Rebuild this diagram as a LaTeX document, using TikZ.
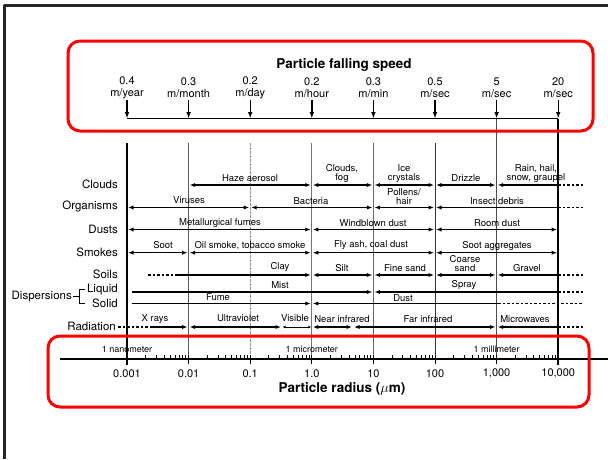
\documentclass[tikz,border=0pt]{standalone}
\usepackage{fontspec}
\setmainfont{TeX Gyre Heros}
\usetikzlibrary{arrows.meta}
\definecolor{boxred}{RGB}{255,0,0}

\begin{document}
\begin{tikzpicture}[x=1pt,y=-1pt,line join=round,
  rowlab/.style={anchor=east,inner sep=0pt,font=\fontsize{11.5}{12}\selectfont},
  seglab/.style={inner sep=0pt,align=center,font=\fontsize{9.5}{9}\selectfont},
  spdlab/.style={inner sep=0pt,align=center,font=\fontsize{11}{12}\selectfont},
  ticklab/.style={inner sep=0pt,font=\fontsize{11}{12}\selectfont},
  unitlab/.style={inner sep=0pt,font=\fontsize{9}{10}\selectfont},
  titlelab/.style={inner sep=0pt,font=\fontsize{13.5}{14}\selectfont\bfseries},
  both/.style={line width=1.4pt,{Latex[length=5.5pt,width=4.2pt]}-{Latex[length=5.5pt,width=4.2pt]},shorten <=1pt,shorten >=1pt},
  toright/.style={line width=1.4pt,-{Latex[length=5.5pt,width=4.2pt]},shorten >=1pt},
  toleft/.style={line width=1.4pt,{Latex[length=5.5pt,width=4.2pt]}-,shorten <=1pt},
  tail/.style={line width=1.4pt,dash pattern=on 2.5pt off 2pt},
  spd/.style={line width=1.4pt,-{Latex[length=6.5pt,width=4.8pt]}},
  hlbox/.style={boxred,line width=3pt,rounded corners=12pt}]
\useasboundingbox (0,0) rectangle (608,459);
\draw[line width=2.5pt,black!85] (608,5.3) -- (4.7,5.3) -- (4.7,459);

\node[titlelab] (title) at (344,65) {Particle falling speed};
\node[spdlab] (s0) at (127,88) {0.4\\m/year};
\node[spdlab] (s1) at (188.6,88) {0.3\\m/month};
\node[spdlab] (s2) at (250.2,88) {0.2\\m/day};
\node[spdlab] (s3) at (311.8,88) {0.2\\m/hour};
\node[spdlab] (s4) at (373.4,88) {0.3\\m/min};
\node[spdlab] (s5) at (435,88) {0.5\\m/sec};
\node[spdlab] (s6) at (496.6,88) {5\\m/sec};
\node[spdlab] (s7) at (558.2,88) {20\\m/sec};
\foreach \x [count=\i from 0] in {127,188.6,250.2,311.8,373.4,435,496.6,558.2}{
  \coordinate (st\i) at (\x,100);
  \coordinate (sb\i) at (\x,118.5);
  \draw[spd] (st\i) -- (sb\i);
}
\draw[line width=1.4pt] (sb0) -- (sb7);

\draw[line width=1.8pt] (127,143) -- (127,365);
\draw[line width=0.7pt,black!65] (188.6,143) -- (188.6,359);
\draw[line width=0.7pt,black!45,dash pattern=on 3pt off 1pt] (250.2,143) -- (250.2,359);
\draw[line width=0.7pt,black!55] (311.8,143) -- (311.8,359);
\draw[line width=0.7pt,black!60] (373.4,143) -- (373.4,359);
\draw[line width=0.8pt,black!80] (435,143) -- (435,359);
\draw[line width=0.8pt,black!70] (sb6) -- (496.6,359);
\draw[line width=1.8pt] (sb7) -- (558.2,365);

\node[rowlab] (clouds) at (118,184) {Clouds};
\node[rowlab] (organisms) at (118,206.5) {Organisms};
\node[rowlab] (dusts) at (118,229) {Dusts};
\node[rowlab] (smokes) at (118,252) {Smokes};
\node[rowlab] (soils) at (118,274) {Soils};
\node[rowlab] (liquid) at (118,290) {Liquid};
\node[rowlab] (solid) at (118,303) {Solid};
\node[rowlab] (disp) at (72,296.5) {Dispersions};
\node[rowlab] (radiation) at (116,326) {Radiation};
\draw[line width=0.7pt] (disp.east) ++(1,0) -- (79.5,296.5);
\draw[line width=0.7pt] (84.5,289.5) -- (79.5,289.5) -- (79.5,303.5) -- (84.5,303.5);

\draw[both] (188.6,185) -- (311.8,185);
\node[seglab] (haze) at (250,178) {Haze aerosol};
\draw[both] (311.8,185) -- (373.4,185);
\node[seglab] (cfog) at (342,173.5) {Clouds,\\fog};
\draw[both] (373.4,185) -- (435,185);
\node[seglab] (ice) at (404,173.5) {Ice\\crystals};
\draw[both] (435,185) -- (496.6,185);
\node[seglab] (drizzle) at (466,178.5) {Drizzle};
\draw[toleft] (496.6,185) -- (558.2,185);
\draw[tail] (558.2,185) -- (583,185);
\node[seglab] (rain) at (536,173.5) {Rain, hail,\\snow, graupel};

\draw[both] (127,207.5) -- (250.2,207.5);
\node[seglab] (viruses) at (189,200.5) {Viruses};
\draw[both] (250.2,207.5) -- (373.4,207.5);
\node[seglab] (bacteria) at (311,201) {Bacteria};
\draw[both] (373.4,207.5) -- (435,207.5);
\node[seglab] (pollens) at (404,196.5) {Pollens/\\hair};
\draw[toleft] (435,207.5) -- (558.2,207.5);
\draw[tail] (558.2,207.5) -- (583,207.5);
\node[seglab] (insect) at (497,201.5) {Insect debris};

\draw[both] (127,229.5) -- (311.8,229.5);
\node[seglab] (metal) at (220,223) {Metallurgical fumes};
\draw[both] (311.8,229.5) -- (435,229.5);
\node[seglab] (windblown) at (373,223) {Windblown dust};
\draw[both] (435,229.5) -- (558.2,229.5);
\node[seglab] (room) at (497,223) {Room dust};

\draw[both] (127,252.7) -- (188.6,252.7);
\node[seglab] (soot) at (163,245.5) {Soot};
\draw[both] (188.6,252.7) -- (311.8,252.7);
\node[seglab] (oil) at (250,245.5) {Oil smoke, tobacco smoke};
\draw[both] (311.8,252.7) -- (435,252.7);
\node[seglab] (flyash) at (371,245.5) {Fly ash, coal dust};
\draw[both] (435,252.7) -- (558.2,252.7);
\node[seglab] (sootagg) at (497,245.5) {Soot aggregates};

\draw[tail] (148,275) -- (178,275);
\draw[toright] (178,275) -- (311.8,275);
\node[seglab] (clay) at (280,266.5) {Clay};
\draw[both] (311.8,275) -- (373.4,275);
\node[seglab] (silt) at (342,268) {Silt};
\draw[both] (373.4,275) -- (435,275);
\node[seglab] (fine) at (405,268) {Fine sand};
\draw[both] (435,275) -- (496.6,275);
\node[seglab] (coarse) at (465,263.5) {Coarse\\sand};
\draw[toleft] (496.6,275) -- (558.2,275);
\draw[tail] (558.2,275) -- (583,275);
\node[seglab] (gravel) at (527,268) {Gravel};

\draw[toright] (132,292) -- (373.4,292);
\node[seglab] (mist) at (280,285) {Mist};
\draw[toleft] (373.4,292) -- (558.2,292);
\draw[tail] (558.2,292) -- (583,292);
\node[seglab] (spray) at (464,285) {Spray};

\draw[toright] (132,303.5) -- (311.8,303.5);
\node[seglab] (fume) at (218,297.5) {Fume};
\draw[toleft] (311.8,303.5) -- (498,303.5);
\draw[tail] (498,303.5) -- (583,303.5);
\node[seglab] (dust) at (403,298) {Dust};

\draw[tail] (118,327) -- (150,327);
\draw[toright] (150,327) -- (188.6,327);
\node[seglab] (xrays) at (155,319) {X rays};
\draw[both] (188.6,327) -- (282,327);
\node[seglab] (uv) at (238,318.5) {Ultraviolet};
\draw[line width=0.7pt,{Latex[length=3pt,width=2.8pt]}-{Latex[length=3pt,width=2.8pt]},shorten <=0.5pt,shorten >=0.5pt] (282,327) -- (311.8,327);
\node[seglab] (visible) at (295,318.5) {Visible};
\draw[both] (311.8,327) -- (353,327);
\node[seglab] (nir) at (342,319) {Near infrared};
\draw[both] (353,327) -- (496.6,327);
\node[seglab] (fir) at (428,319) {Far infrared};
\draw[toleft] (496.6,327) -- (558.2,327);
\draw[tail] (558.2,327) -- (583,327);
\node[seglab] (micro) at (525,319) {Microwaves};

\draw[line width=1.3pt] (60,359) -- (608,359);
\foreach \k in {0,...,7}{
  \draw[line width=1pt] ({127+61.6*\k},355) -- ++(0,9);
}
\foreach \k in {0,...,6}{
  \foreach \m in {2,...,9}{
    \draw[line width=0.6pt] ({127+61.6*(\k+ln(\m)/ln(10))},359) -- ++(0,-4);
  }
}
\node[unitlab] (nano) at (127,349.5) {1 nanometer};
\node[unitlab] (micrometer) at (311.8,349.5) {1 micrometer};
\node[unitlab] (milli) at (496.6,349.5) {1 millimeter};
\node[ticklab] (t0) at (127,373.5) {0.001};
\node[ticklab] (t1) at (188.6,373.5) {0.01};
\node[ticklab] (t2) at (250.2,373.5) {0.1};
\node[ticklab] (t3) at (311.8,373.5) {1.0};
\node[ticklab] (t4) at (373.4,373.5) {10};
\node[ticklab] (t5) at (435,373.5) {100};
\node[ticklab] (t6) at (496.6,373.5) {1,000};
\node[ticklab] (t7) at (558.2,373.5) {10,000};
\node[titlelab] (radius) at (342,388.5) {Particle radius ($\mu$m)};

\draw[hlbox] (68,41) rectangle (593,131);
\draw[hlbox] (48,336) rectangle (589,407);
\end{tikzpicture}
\end{document}
